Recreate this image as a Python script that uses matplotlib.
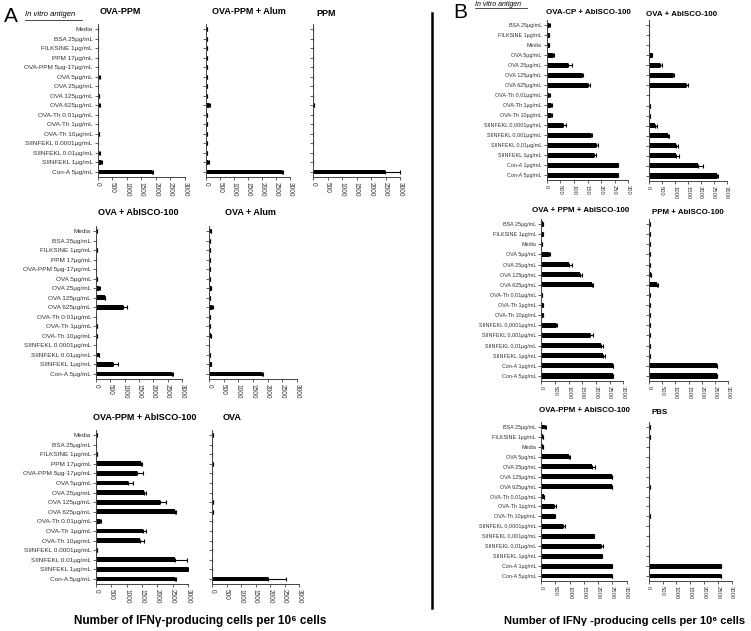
import numpy as np
import matplotlib
matplotlib.use("Agg")
import matplotlib.pyplot as plt
from matplotlib.lines import Line2D

plt.rcParams['font.family'] = ['Liberation Sans', 'DejaVu Sans']

W, H = 751, 631

# ---- panel A data ----
cats_a = ['Media', 'BSA 25µg/mL', 'FILKSINE 1µg/mL', 'PPM 17µg/mL',
          'OVA-PPM 5µg-17µg/mL', 'OVA 5µg/mL', 'OVA 25µg/mL', 'OVA 125µg/mL',
          'OVA 625µg/mL', 'OVA-Th 0.01µg/mL', 'OVA-Th 1µg/mL', 'OVA-Th 10µg/mL',
          'SIINFEKL 0.0001µg/mL', 'SIINFEKL 0.01µg/mL', 'SIINFEKL 1µg/mL',
          'Con-A 5µg/mL']

a_ova_ppm = [10, 10, 10, 10, 10, 60, 20, 40, 60, 20, 20, 30, 20, 60, 130, 1870]
a_ova_ppm_err = [0, 0, 0, 0, 0, 10, 0, 10, 10, 0, 0, 0, 0, 10, 20, 40]
a_ova_ppm_alum = [20, 20, 20, 20, 20, 20, 30, 50, 110, 20, 20, 20, 20, 30, 80, 2700]
a_ova_ppm_alum_err = [0, 0, 0, 0, 0, 0, 0, 0, 20, 0, 0, 0, 0, 0, 10, 40]
a_ppm = [10, 10, 10, 10, 10, 10, 10, 10, 20, 10, 10, 10, 10, 10, 10, 2480]
a_ppm_err = [0, 0, 0, 0, 0, 0, 0, 0, 0, 0, 0, 0, 0, 0, 0, 520]
a_ova_absco = [20, 10, 20, 10, 10, 40, 117, 315, 957, 10, 30, 30, 10, 105, 584, 2650]
a_ova_absco_err = [0, 0, 0, 0, 0, 0, 10, 10, 117, 0, 0, 0, 0, 0, 198, 35]
a_ova_alum = [69, 50, 50, 30, 20, 30, 60, 40, 103, 20, 50, 70, 10, 20, 60, 1800]
a_ova_alum_err = [0, 0, 0, 0, 0, 0, 0, 0, 20, 0, 0, 0, 0, 0, 0, 55]
a_ovappm_absco = [20, 10, 20, 1456, 1347, 1029, 1577, 2102, 2584, 120, 1522, 1445, 20, 2584, 3000, 2584]
a_ovappm_absco_err = [0, 0, 0, 34, 197, 186, 54, 175, 20, 30, 109, 110, 0, 372, 0, 20]
a_ova = [20, 10, 10, 20, 10, 10, 10, 20, 50, 10, 10, 10, 10, 10, 10, 1938]
a_ova_err = [0, 0, 0, 0, 0, 0, 0, 0, 0, 0, 0, 0, 0, 0, 0, 612]

# ---- panel B data ----
cats_b = ['BSA 25µg/mL', 'FILKSINE 1µg/mL', 'Media', 'OVA 5µg/mL', 'OVA 25µg/mL',
          'OVA 125µg/mL', 'OVA 625µg/mL', 'OVA-Th 0,01µg/mL', 'OVA-Th 1µg/mL',
          'OVA-Th 10µg/mL', 'SIINFEKL 0,0001µg/mL', 'SIINFEKL 0,001µg/mL',
          'SIINFEKL 0,01µg/mL', 'SIINFEKL 1µg/mL', 'Con-A 1µg/mL', 'Con-A 5µg/mL']

b_ovacp_absco = [86, 86, 73, 245, 796, 1286, 1506, 98, 147, 171, 588, 1616, 1812, 1739, 2620, 2620]
b_ovacp_absco_err = [20, 15, 10, 35, 147, 61, 86, 25, 30, 35, 122, 61, 61, 61, 0, 0]
b_ova_absco = [10, 10, 10, 128, 436, 949, 1436, 10, 51, 64, 244, 731, 1038, 1051, 1885, 2641]
b_ova_absco_err = [0, 0, 0, 15, 64, 20, 64, 0, 0, 0, 89, 38, 77, 103, 205, 10]
b_ova_ppm_absco = [49, 49, 12, 280, 1012, 1415, 1841, 37, 61, 61, 537, 1780, 2195, 2244, 2634, 2634]
b_ova_ppm_absco_err = [0, 0, 0, 20, 98, 61, 61, 0, 0, 0, 48, 98, 61, 85, 0, 0]
b_ppm_absco = [50, 50, 38, 25, 38, 76, 290, 38, 38, 50, 25, 25, 38, 25, 2571, 2571]
b_ppm_absco_err = [0, 0, 0, 0, 0, 0, 63, 0, 0, 0, 0, 0, 0, 0, 0, 0]
b_ovappm_absco = [140, 70, 82, 980, 1774, 2498, 2498, 93, 467, 502, 782, 1868, 2113, 2148, 2498, 2498]
b_ovappm_absco_err = [25, 0, 0, 25, 117, 0, 0, 0, 58, 0, 70, 0, 58, 0, 0, 0]
b_pbs = [50, 50, 10, 10, 10, 10, 30, 10, 10, 40, 10, 10, 10, 10, 2614, 2614]
b_pbs_err = [0] * 16

xticks = [0, 500, 1000, 1500, 2000, 2500, 3000]
xtick_labels = ['0', '500', '1000', '1500', '2000', '2500', '3000']
xtick_labels_cut = ['0', '500', '100', '150', '200', '250', '300']

fig = plt.figure(figsize=(W / 100, H / 100), dpi=100)


def panel(x0, x1, y_first, y_last, vals, errs, cats, title, tx, ty,
          show_labels=True, lab_size=4.6, tick_size=4.7, title_size=6.5,
          tlabels=xtick_labels):
    n = len(cats)
    step = (y_last - y_first) / (n - 1)
    top = y_first - step / 2
    bot = y_last + step / 2
    ax = fig.add_axes([x0 / W, 1 - bot / H, (x1 - x0) / W, (bot - top) / H])
    y = np.arange(n)
    ax.barh(y, vals, height=0.5, color='black')
    ax.errorbar(vals, y, xerr=[np.zeros(n), errs], fmt='none', ecolor='black',
                elinewidth=0.8, capsize=1.6, capthick=0.8)
    ax.set_xlim(0, 3000)
    ax.set_ylim(n - 0.5, -0.5)
    ax.set_yticks(y)
    if show_labels:
        ax.set_yticklabels(cats, fontsize=lab_size, color='#333333')
    else:
        ax.set_yticklabels([])
    ax.set_xticks(xticks)
    ax.set_xticklabels(tlabels, fontsize=tick_size, rotation=-90, color='#333333')
    for s in ['top', 'right']:
        ax.spines[s].set_visible(False)
    for s in ['left', 'bottom']:
        ax.spines[s].set_linewidth(0.7)
        ax.spines[s].set_color('#444444')
    ax.tick_params(axis='both', length=2, width=0.6, pad=1.5, color='#444444')
    fig.text(tx / W, 1 - ty / H, title, fontsize=title_size, fontweight='bold',
             ha='left', va='center')
    return ax


# panel A
panel(97.7, 185, 29, 172, a_ova_ppm, a_ova_ppm_err, cats_a, 'OVA-PPM', 100, 12)
panel(206, 290, 29, 172, a_ova_ppm_alum, a_ova_ppm_alum_err, cats_a, 'OVA-PPM + Alum', 212, 12, show_labels=False)
panel(313, 400, 29, 172, a_ppm, a_ppm_err, cats_a, 'PPM', 316, 13, show_labels=False)
panel(96, 182, 231, 374, a_ova_absco, a_ova_absco_err, cats_a, 'OVA + AbISCO-100', 98, 213)
panel(209, 297, 231, 374, a_ova_alum, a_ova_alum_err, cats_a, 'OVA + Alum', 225, 213, show_labels=False)
panel(96, 188, 435, 579, a_ovappm_absco, a_ovappm_absco_err, cats_a, 'OVA-PPM + AbISCO-100', 93, 418)
panel(212, 299, 435, 579, a_ova, a_ova_err, cats_a, 'OVA', 223, 418, show_labels=False)

# panel B
kb = dict(lab_size=3.9, tick_size=4.2, title_size=5.7)
panel(546.7, 628.3, 25, 175, b_ovacp_absco, b_ovacp_absco_err, cats_b, 'OVA-CP + AbISCO-100', 546, 12,
      tlabels=xtick_labels_cut, **kb)
panel(648.7, 726.7, 25, 176, b_ova_absco, b_ova_absco_err, cats_b, 'OVA + AbISCO-100', 646, 14,
      show_labels=False, **kb)
panel(541.3, 623.3, 224, 376, b_ova_ppm_absco, b_ova_ppm_absco_err, cats_b, 'OVA + PPM + AbISCO-100', 532, 210, **kb)
panel(649, 728.3, 224, 376, b_ppm_absco, b_ppm_absco_err, cats_b, 'PPM + AbISCO-100', 652, 213,
      show_labels=False, **kb)
panel(541, 626.7, 427, 576, b_ovappm_absco, b_ovappm_absco_err, cats_b, 'OVA-PPM + AbISCO-100', 539, 411, **kb)
panel(648.7, 731.7, 427, 576, b_pbs, b_pbs_err, cats_b, 'PBS', 652, 412, show_labels=False, **kb)

# panel letters and headers
fig.text(4 / W, 1 - 16 / H, 'A', fontsize=15, ha='left', va='center')
fig.text(25 / W, 1 - 15 / H, 'In vitro antigen', fontsize=5.5, style='italic', ha='left', va='center')
fig.add_artist(Line2D([25 / W, 82 / W], [1 - 19.5 / H, 1 - 19.5 / H], color='black', lw=0.5))
fig.text(453 / W, 1 - 13 / H, 'B', fontsize=15, ha='left', va='center')
fig.text(475 / W, 1 - 4 / H, 'In vitro antigen', fontsize=5, style='italic', ha='left', va='center')
fig.add_artist(Line2D([475 / W, 527 / W], [1 - 8 / H, 1 - 8 / H], color='black', lw=0.5))

# divider
fig.add_artist(Line2D([432 / W, 432 / W], [1 - 13 / H, 1 - 608 / H], color='black', lw=1.8))

# axis titles
fig.text(200 / W, 1 - 621 / H, 'Number of IFNγ-producing cells per 10⁶ cells', fontsize=8.5,
         fontweight='bold', ha='center', va='center')
fig.text(625 / W, 1 - 621 / H, 'Number of IFNγ -producing cells per 10⁶ cells', fontsize=8,
         fontweight='bold', ha='center', va='center')

fig.savefig('out.png', dpi=100)
